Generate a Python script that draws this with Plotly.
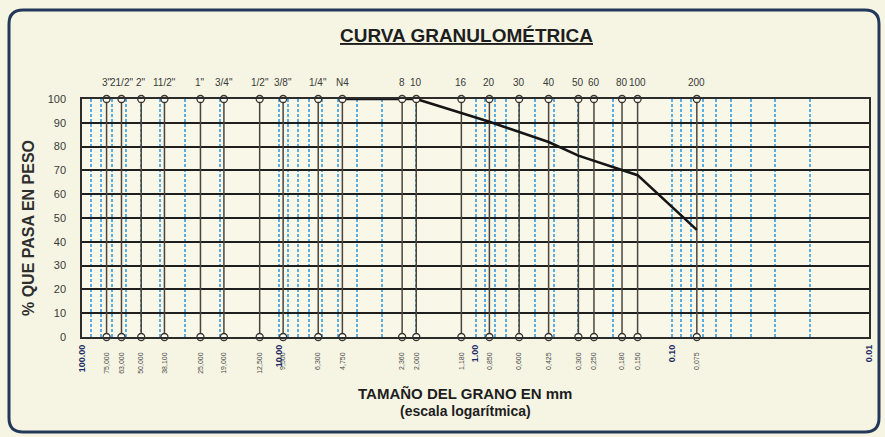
import math
import plotly.graph_objects as go

# ---------------- data ----------------
sieve_names = ['3"', '21/2"', '2"', '11/2"', '1"', '3/4"', '1/2"', '3/8"', '1/4"', 'N4',
               '8', '10', '16', '20', '30', '40', '50', '60', '80', '100', '200']
sieve_mm = [75, 63, 50, 38.1, 25, 19, 12.5, 9.5, 6.3, 4.75,
            2.36, 2.0, 1.18, 0.85, 0.6, 0.425, 0.3, 0.25, 0.18, 0.15, 0.075]
sieve_labels = ['75,000', '63,000', '50,000', '38,100', '25,000', '19,000', '12,500', '9,500',
                '6,300', '4,750', '2,360', '2,000', '1,180', '0,850', '0,600', '0,425',
                '0,300', '0,250', '0,180', '0,150', '0,075']
decade_vals = [100, 10, 1, 0.1, 0.01]
decade_text = ['100.00', '10.00', '1.00', '0.10', '0.01']

curve_mm = [4.75, 2.36, 2.0, 0.85, 0.425, 0.3, 0.15, 0.075]
curve_pass = [100, 100, 100, 90.4, 81.9, 76.2, 68.0, 45.0]

# ---------------- layout geometry ----------------
W, H = 885, 437
L, R, T, B = 82, 16, 99, 100
PW, PH = W - L - R, H - T - B
BG = '#f6f5e3'
FONT = 'Liberation Sans, Arial, sans-serif'


def px(x):
    return (x - L) / PW


def py(y):
    return (H - B - y) / PH


fig = go.Figure()

# sieve vertical lines
vx, vy = [], []
for s in sieve_mm:
    vx += [s, s, None]
    vy += [0, 100, None]
fig.add_trace(go.Scatter(x=vx, y=vy, mode='lines',
                         line=dict(color='#4c443c', width=1.5),
                         hoverinfo='skip', showlegend=False))

# grading curve
fig.add_trace(go.Scatter(x=curve_mm, y=curve_pass, mode='lines',
                         line=dict(color='#151515', width=2.6),
                         showlegend=False))

# circles at ends of sieve lines
for yv in (0, 100):
    fig.add_trace(go.Scatter(x=sieve_mm, y=[yv] * len(sieve_mm), mode='markers',
                             marker=dict(symbol='circle', size=7, color='#fbfbf2',
                                         line=dict(color='#3a3430', width=1.3)),
                             cliponaxis=False, hoverinfo='skip', showlegend=False))

# invisible traces for overlay axes
fig.add_trace(go.Scatter(x=[1], y=[50], xaxis='x2', mode='markers',
                         marker=dict(opacity=0), showlegend=False, hoverinfo='skip'))
fig.add_trace(go.Scatter(x=[1], y=[50], xaxis='x3', mode='markers',
                         marker=dict(opacity=0), showlegend=False, hoverinfo='skip'))

# top sieve name labels (log axis -> annotation x in log10 units)
for s, n in zip(sieve_mm, sieve_names):
    fig.add_annotation(x=math.log10(s), y=100, xref='x', yref='y', text=n, showarrow=False,
                       xanchor='center', yanchor='bottom', yshift=9,
                       font=dict(family=FONT, size=10, color='#3a3a3a'))


def paper_text(x, y, text, size, angle=0, color='#1e1e1e'):
    fig.add_annotation(x=px(x), y=py(y), xref='paper', yref='paper', text=text,
                       showarrow=False, xanchor='center', yanchor='middle',
                       textangle=angle, font=dict(family=FONT, size=size, color=color))


paper_text(466, 35, '<b><u>CURVA GRANULOMÉTRICA</u></b>', 19)
paper_text(28, 228, '<b>% QUE PASA EN PESO</b>', 16, angle=-90, color='#2e2e2e')
paper_text(465, 393, '<b>TAMAÑO DEL GRANO EN mm</b>', 15)
paper_text(465, 411, '<b>(escala logarítmica)</b>', 14)

# rounded border
x0, x1, y0, y1, r = 9, 879, 10, 432, 14
rx, ry = r / PW, r / PH
X0, X1, Y0, Y1 = px(x0), px(x1), py(y0), py(y1)
path = (f'M {X0 + rx},{Y0} L {X1 - rx},{Y0} Q {X1},{Y0} {X1},{Y0 - ry} '
        f'L {X1},{Y1 + ry} Q {X1},{Y1} {X1 - rx},{Y1} '
        f'L {X0 + rx},{Y1} Q {X0},{Y1} {X0},{Y1 + ry} '
        f'L {X0},{Y0 - ry} Q {X0},{Y0} {X0 + rx},{Y0} Z')
fig.add_shape(type='path', path=path, xref='paper', yref='paper',
              line=dict(color='#24395a', width=3), layer='below')

xcommon = dict(type='log', range=[2, -2], fixedrange=True)

fig.update_layout(
    width=W, height=H,
    margin=dict(l=L, r=R, t=T, b=B),
    paper_bgcolor=BG, plot_bgcolor='#f8f7e8',
    font=dict(family=FONT),
    xaxis=dict(**xcommon, dtick='D1', showgrid=True, gridcolor='#5aaee2',
               griddash='3px,2px', gridwidth=2, showticklabels=False,
               ticks='', showline=True, mirror=True, linecolor='#2c2c2c', linewidth=1.5),
    xaxis2=dict(**xcommon, overlaying='x', anchor='y', side='bottom', showgrid=False,
                tickmode='array', tickvals=sieve_mm, ticktext=sieve_labels,
                tickangle=-90, ticks='', ticklabelstandoff=13,
                tickfont=dict(family='Liberation Sans Narrow, Arial Narrow, ' + FONT,
                              size=7, color='#4a4a4a')),
    xaxis3=dict(**xcommon, overlaying='x', anchor='y', side='bottom', showgrid=False,
                tickmode='array', tickvals=decade_vals, ticktext=decade_text,
                tickangle=-90, ticks='', ticklabelstandoff=5,
                tickfont=dict(family=FONT, size=9, color='#1c2a66', weight='bold')),
    yaxis=dict(range=[0, 100], dtick=10, showgrid=True, gridcolor='#1f1f1f',
               gridwidth=1.5, zeroline=False, ticks='', ticklabelstandoff=12,
               showline=True, mirror=True, linecolor='#2c2c2c', linewidth=1.5,
               tickfont=dict(family=FONT, size=11, color='#3a3a3a'), fixedrange=True),
)

fig.write_html('out.html', config={'displayModeBar': False},
               post_script="document.body.style.margin='0';document.body.style.background='" + BG + "';")
